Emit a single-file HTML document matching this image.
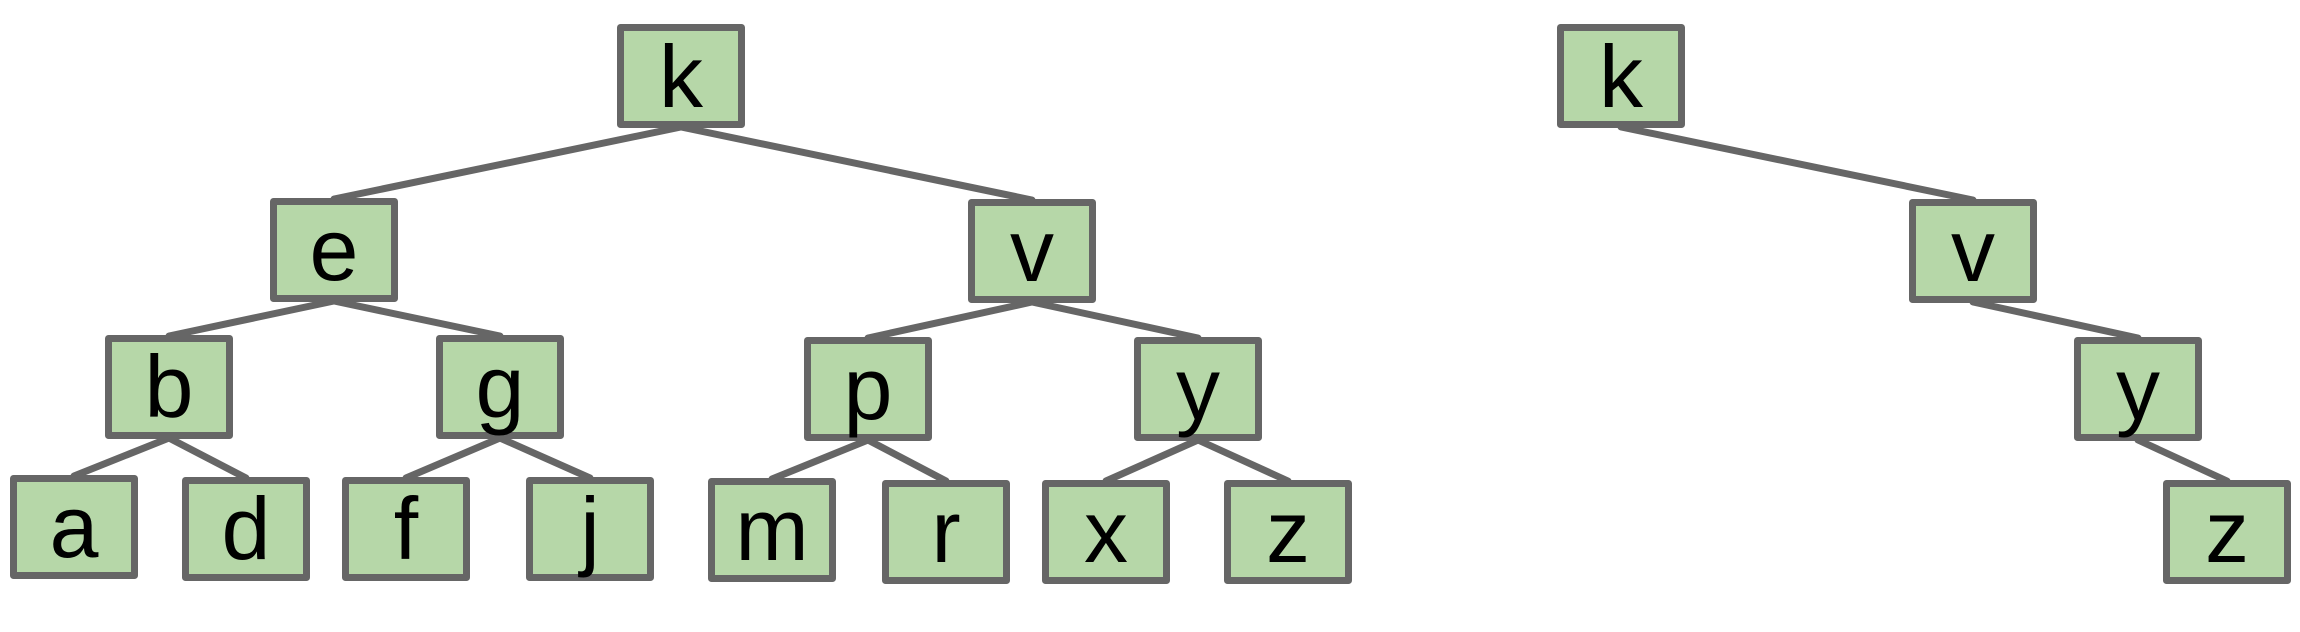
<!DOCTYPE html>
<html><head><meta charset="utf-8"><style>html,body{margin:0;padding:0;background:#fff;}svg{display:block}</style></head>
<body>
<svg width="2300" height="632" viewBox="0 0 2300 632" xmlns="http://www.w3.org/2000/svg">
<g stroke="#666666" stroke-width="7" stroke-linecap="round">
<line x1="681" y1="127" x2="334" y2="199"/>
<line x1="681" y1="127" x2="1032" y2="200"/>
<line x1="334" y1="301" x2="169" y2="336"/>
<line x1="334" y1="301" x2="500" y2="336"/>
<line x1="169" y1="438" x2="74" y2="476"/>
<line x1="169" y1="438" x2="246" y2="478"/>
<line x1="500" y1="438" x2="406" y2="478"/>
<line x1="500" y1="438" x2="590" y2="478"/>
<line x1="1032" y1="302" x2="868" y2="338"/>
<line x1="1032" y1="302" x2="1198" y2="338"/>
<line x1="868" y1="440" x2="772" y2="479"/>
<line x1="868" y1="440" x2="946" y2="481"/>
<line x1="1198" y1="440" x2="1106" y2="481"/>
<line x1="1198" y1="440" x2="1288" y2="481"/>
<line x1="1621" y1="127" x2="1973" y2="200"/>
<line x1="1973" y1="302" x2="2138" y2="338"/>
<line x1="2138" y1="440" x2="2227" y2="481"/>
</g>
<g fill="#b6d7a8" stroke="#666666" stroke-width="7" stroke-linejoin="round">
<rect x="620.5" y="27.5" width="121" height="97"/>
<rect x="273.5" y="201.5" width="121" height="97"/>
<rect x="108.5" y="338.5" width="121" height="97"/>
<rect x="439.5" y="338.5" width="121" height="97"/>
<rect x="13.5" y="478.5" width="121" height="97"/>
<rect x="185.5" y="480.5" width="121" height="97"/>
<rect x="345.5" y="480.5" width="121" height="97"/>
<rect x="529.5" y="480.5" width="121" height="97"/>
<rect x="971.5" y="202.5" width="121" height="97"/>
<rect x="807.5" y="340.5" width="121" height="97"/>
<rect x="1137.5" y="340.5" width="121" height="97"/>
<rect x="711.5" y="481.5" width="121" height="97"/>
<rect x="885.5" y="483.5" width="121" height="97"/>
<rect x="1045.5" y="483.5" width="121" height="97"/>
<rect x="1227.5" y="483.5" width="121" height="97"/>
<rect x="1560.5" y="27.5" width="121" height="97"/>
<rect x="1912.5" y="202.5" width="121" height="97"/>
<rect x="2077.5" y="340.5" width="121" height="97"/>
<rect x="2166.5" y="483.5" width="121" height="97"/>
</g>
<g font-family="Liberation Sans, Arial, sans-serif" font-size="88" fill="#000" text-anchor="middle">
<text x="681" y="107">k</text>
<text x="334" y="280">e</text>
<text x="169" y="417">b</text>
<text x="500" y="417">g</text>
<text x="74" y="557">a</text>
<text x="246" y="559">d</text>
<text x="406" y="559">f</text>
<text x="590" y="559">j</text>
<text x="1032" y="281">v</text>
<text x="868" y="419">p</text>
<text x="1198" y="419">y</text>
<text x="772" y="560">m</text>
<text x="946" y="562">r</text>
<text x="1106" y="562">x</text>
<text x="1288" y="562">z</text>
<text x="1621" y="107">k</text>
<text x="1973" y="281">v</text>
<text x="2138" y="419">y</text>
<text x="2227" y="562">z</text>
</g>
</svg>
</body></html>
